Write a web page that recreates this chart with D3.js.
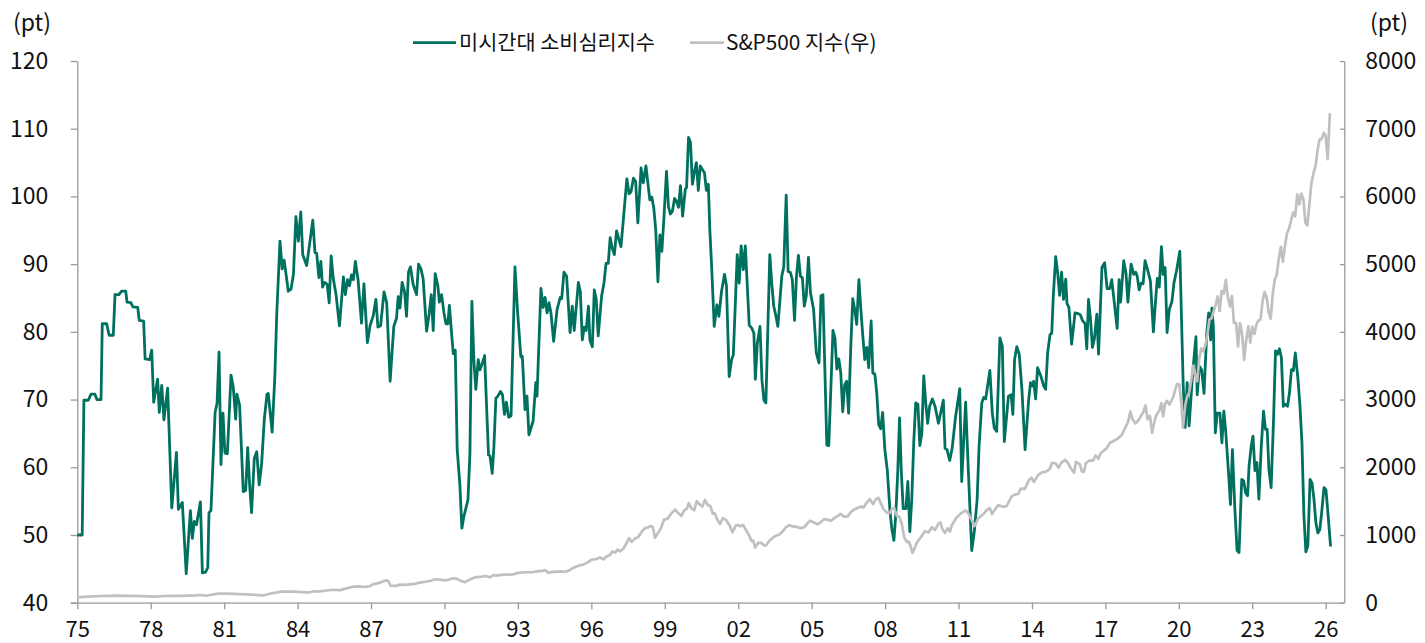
<!DOCTYPE html>
<html><head><meta charset="utf-8">
<script src="https://cdn.jsdelivr.net/npm/d3@7"></script>
<style>
body{margin:0;background:#fff;}
svg text{font-family:"Noto Sans CJK KR","Noto Sans",sans-serif;fill:#111;}
</style>
</head><body>
<svg id="chart" width="1425" height="643"></svg>
<script>
// ---- data (time in decimal years) ----
const seriesNames = ["미시간대 소비심리지수", "S&P500 지수(우)"];
const unitLabel = "(pt)";
const xTickYears = [1975,1978,1981,1984,1987,1990,1993,1996,1999,2002,2005,2008,2011,2014,2017,2020,2023,2026];
const leftTicks = [40,50,60,70,80,90,100,110,120];
const rightTicks = [0,1000,2000,3000,4000,5000,6000,7000,8000];

const umTimes = [1975.00,1975.20,1975.27,1975.45,1975.56,1975.72,1975.80,1975.97,1976.02,1976.20,1976.30,1976.47,1976.54,1976.70,1976.81,1976.98,1977.03,1977.19,1977.27,1977.47,1977.53,1977.71,1977.77,1977.96,1978.04,1978.12,1978.28,1978.35,1978.45,1978.54,1978.69,1978.86,1979.05,1979.13,1979.29,1979.45,1979.62,1979.70,1979.78,1979.87,1980.03,1980.11,1980.24,1980.33,1980.38,1980.46,1980.63,1980.71,1980.79,1980.87,1980.95,1981.03,1981.13,1981.28,1981.37,1981.47,1981.52,1981.63,1981.78,1981.88,1981.96,1982.04,1982.12,1982.23,1982.33,1982.43,1982.53,1982.64,1982.75,1982.80,1982.96,1983.07,1983.15,1983.28,1983.37,1983.45,1983.62,1983.73,1983.83,1983.93,
1984.03,1984.13,1984.21,1984.37,1984.48,1984.62,1984.71,1984.78,1984.87,1984.95,1985.02,1985.10,1985.21,1985.29,1985.37,1985.46,1985.57,1985.71,1985.87,1985.95,1986.04,1986.12,1986.20,1986.28,1986.36,1986.47,1986.61,1986.71,1986.85,1986.96,1987.09,1987.20,1987.28,1987.39,1987.53,1987.64,1987.78,1987.93,1988.04,1988.11,1988.18,1988.27,1988.37,1988.45,1988.53,1988.61,1988.72,1988.86,1988.94,1989.04,1989.13,1989.27,1989.38,1989.46,1989.54,1989.62,1989.73,1989.79,1989.88,1989.98,1990.06,1990.14,1990.20,1990.29,1990.36,1990.44,1990.52,1990.63,1990.71,1990.79,1990.96,1991.04,1991.12,1991.20,1991.28,1991.38,1991.45,1991.53,1991.64,1991.72,1991.80,1991.86,1991.95,1992.02,1992.10,1992.18,1992.29,1992.37,1992.45,1992.53,1992.62,1992.72,1992.88,1992.99,
1993.12,1993.18,1993.29,1993.37,1993.45,1993.62,1993.73,1993.78,1993.94,1994.03,1994.11,1994.19,1994.27,1994.35,1994.46,1994.60,1994.73,1994.79,1994.88,1994.99,1995.13,1995.22,1995.30,1995.47,1995.55,1995.63,1995.71,1995.79,1995.88,1995.94,1996.04,1996.12,1996.20,1996.28,1996.42,1996.52,1996.60,1996.69,1996.77,1996.85,1996.94,1997.03,1997.13,1997.21,1997.32,1997.45,1997.54,1997.62,1997.72,1997.81,1997.90,1998.03,1998.12,1998.23,1998.39,1998.47,1998.55,1998.63,1998.72,1998.80,1998.88,1998.96,1999.07,1999.15,1999.23,1999.31,1999.40,1999.48,1999.56,1999.64,1999.73,1999.84,1999.89,1999.97,2000.05,2000.13,2000.21,2000.29,2000.37,2000.45,2000.53,2000.62,2000.70,2000.78,2000.84,2000.92,2001.02,2001.13,2001.21,2001.32,2001.44,2001.52,2001.63,2001.73,2001.80,2001.96,
2002.04,2002.12,2002.21,2002.29,2002.45,2002.56,2002.64,2002.70,2002.78,2002.89,2002.97,2003.05,2003.13,2003.29,2003.37,2003.45,2003.53,2003.62,2003.78,2003.86,2003.96,2004.04,2004.13,2004.21,2004.30,2004.38,2004.46,2004.54,2004.62,2004.70,2004.78,2004.87,2004.95,2005.08,2005.19,2005.30,2005.38,2005.46,2005.62,2005.70,2005.87,2005.95,2006.03,2006.11,2006.19,2006.27,2006.35,2006.43,2006.51,2006.60,2006.68,2006.76,2006.84,2006.93,2007.01,2007.09,2007.17,2007.25,2007.33,2007.43,2007.50,2007.58,2007.66,2007.74,2007.82,2007.90,2007.99,2008.09,2008.20,2008.28,2008.36,2008.44,2008.52,2008.59,2008.66,2008.74,2008.85,2008.93,2009.01,2009.09,2009.17,2009.25,2009.34,2009.42,2009.50,2009.58,2009.66,2009.74,2009.82,2009.93,
2010.04,2010.18,2010.38,2010.45,2010.53,2010.64,2010.74,2010.88,2011.05,2011.13,2011.29,2011.40,2011.54,2011.65,2011.76,2011.84,2011.95,2012.03,2012.11,2012.28,2012.38,2012.46,2012.56,2012.69,2012.79,2012.87,2013.04,2013.15,2013.22,2013.29,2013.38,2013.48,2013.59,2013.72,2013.86,2013.94,2014.02,2014.07,2014.15,2014.23,2014.37,2014.48,2014.56,2014.64,2014.74,2014.81,2014.87,2014.97,2015.05,2015.13,2015.21,2015.29,2015.38,2015.43,2015.51,2015.62,2015.76,2015.89,2015.98,2016.06,2016.17,2016.24,2016.31,2016.39,2016.47,2016.55,2016.65,2016.72,2016.86,2016.97,2017.07,2017.18,2017.26,2017.48,2017.56,2017.62,2017.75,2017.84,2017.92,2018.05,2018.16,2018.24,2018.30,2018.38,2018.46,2018.54,2018.62,2018.73,2018.84,2018.96,
2019.04,2019.12,2019.20,2019.29,2019.36,2019.44,2019.52,2019.61,2019.72,2019.80,2019.91,2020.04,2020.18,2020.26,2020.34,2020.42,2020.52,2020.59,2020.70,2020.75,2020.84,2020.93,2021.03,2021.14,2021.22,2021.30,2021.35,2021.41,2021.49,2021.57,2021.68,2021.76,2021.84,2021.92,2022.03,2022.11,2022.19,2022.29,2022.38,2022.46,2022.57,2022.65,2022.73,2022.81,2022.87,2022.96,2023.03,2023.11,2023.19,2023.27,2023.37,2023.46,2023.54,2023.61,2023.68,2023.77,2023.87,2023.95,2024.03,2024.11,2024.19,2024.27,2024.35,2024.44,2024.52,2024.60,2024.68,2024.76,2024.87,2024.95,2025.03,2025.11,2025.19,2025.27,2025.36,2025.44,2025.52,2025.60,2025.68,2025.76,2025.84,2025.93,2026.01,2026.09,2026.20];

const umValues = [50.0,50.0,69.9,69.9,70.8,70.8,70.0,70.0,81.2,81.2,79.5,79.5,85.5,85.5,86.0,86.0,84.4,84.3,83.7,83.6,81.7,81.6,76.0,75.9,77.3,69.6,73.0,68.1,72.1,67.0,71.7,54.0,62.2,53.8,54.8,44.3,53.6,49.5,52.0,51.5,54.9,44.4,44.5,45.2,53.3,53.6,68.1,69.5,77.0,60.4,68.0,62.1,62.0,73.6,71.9,67.1,70.8,69.2,56.4,56.6,62.9,57.4,53.3,61.3,62.3,57.4,60.5,67.1,70.8,70.9,65.2,73.4,82.8,93.4,89.3,90.6,86.0,86.3,88.5,97.0,
93.4,97.7,91.4,89.8,92.7,96.5,91.7,91.6,88.0,90.4,86.6,87.3,87.0,84.3,91.2,87.8,85.5,80.9,88.1,85.5,87.7,86.8,88.4,87.7,90.4,87.7,81.3,87.1,78.4,80.9,82.4,84.8,80.7,80.9,85.9,84.3,72.7,80.8,82.0,85.2,83.5,87.3,85.9,82.3,88.8,89.6,87.0,85.5,90.0,89.3,87.8,80.1,82.8,85.5,80.2,88.6,86.8,84.4,85.5,82.8,81.2,81.2,83.9,79.8,76.8,77.3,62.6,57.4,51.0,52.7,55.2,62.1,84.5,75.9,71.5,75.9,74.4,75.2,76.5,69.0,61.8,61.7,59.1,63.1,70.2,70.5,71.2,70.7,67.8,69.6,67.4,67.6,89.6,82.8,
76.3,76.4,68.5,70.5,64.8,66.8,72.5,70.5,86.4,83.6,85.1,82.8,84.3,82.8,78.6,83.3,85.1,84.9,88.8,88.2,79.9,83.8,80.2,87.3,85.9,78.8,80.7,80.2,83.8,78.8,77.8,86.2,84.8,79.4,85.3,87.3,90.1,90.1,93.9,92.4,91.4,94.9,93.6,92.6,97.1,102.6,100.4,100.7,102.7,102.2,96.1,104.2,102.0,104.5,99.5,99.9,98.3,95.1,87.4,94.3,91.9,96.5,103.7,98.5,97.4,97.8,99.7,99.3,98.4,101.6,97.1,101.1,101.3,108.7,108.0,101.8,103.6,105.0,100.9,104.5,104.0,103.5,100.9,101.8,95.1,89.2,80.8,84.0,82.3,86.0,88.5,86.8,73.4,75.9,76.6,91.4,
87.2,92.7,89.2,92.7,81.0,80.5,79.8,73.0,78.3,80.8,72.9,69.9,69.5,91.4,87.2,83.8,82.5,80.8,88.2,89.6,100.2,88.9,88.8,87.7,81.7,88.2,91.3,88.2,88.0,83.8,85.3,91.0,85.8,83.3,76.9,75.4,85.3,85.5,63.3,63.2,80.2,79.1,74.5,76.0,73.9,68.2,72.2,72.7,68.0,77.9,84.9,83.3,81.1,87.7,83.3,79.4,75.9,77.7,74.7,81.6,73.9,73.8,71.0,66.3,65.7,68.1,62.6,59.6,53.5,50.8,49.2,53.2,59.6,67.3,59.6,53.9,53.9,57.9,50.5,55.2,63.6,69.5,69.3,63.2,65.0,73.5,69.5,66.5,69.0,70.1,
69.0,66.5,69.9,62.8,62.6,61.0,62.8,67.5,71.6,57.9,69.6,59.6,47.7,50.7,55.2,63.1,69.5,70.3,70.1,74.3,68.0,65.8,65.3,79.1,77.9,63.8,70.5,70.7,67.8,75.9,77.8,76.7,71.5,62.6,69.7,72.5,72.0,72.7,70.1,74.7,73.4,72.0,71.5,76.9,79.6,79.8,85.2,91.1,88.7,85.4,88.8,84.8,87.8,84.2,83.6,78.2,82.8,82.7,82.5,81.7,81.2,77.5,84.8,82.0,77.7,79.0,82.6,76.7,89.5,90.2,86.4,86.4,87.7,80.5,87.7,84.4,90.5,88.7,84.4,90.0,88.5,88.8,88.2,86.2,87.2,87.1,90.5,89.1,87.5,80.0,
84.1,87.9,86.6,92.6,88.5,89.5,79.9,83.3,84.5,87.2,89.1,91.9,72.0,65.9,72.5,66.1,71.5,74.9,79.3,70.7,74.9,74.4,70.9,79.8,82.8,78.8,83.5,80.8,65.1,68.0,68.0,63.6,68.3,65.1,59.2,54.5,62.6,53.8,47.7,47.4,58.2,58.0,56.2,55.8,60.2,63.2,64.6,59.5,60.7,55.3,63.2,68.3,65.6,65.6,59.7,57.0,67.1,77.2,76.7,77.5,76.2,69.0,69.3,69.0,71.0,74.4,74.3,76.9,72.9,69.0,63.6,52.8,47.5,48.4,58.2,57.7,55.3,51.8,50.3,50.8,53.5,57.0,56.7,53.3,48.3];

const spTimes = [1975.00,1975.45,1976.00,1976.54,1977.08,1977.63,1978.17,1978.72,1979.26,1979.81,1980.08,1980.25,1980.76,1981.17,1981.58,1981.99,1982.40,1982.60,1982.94,1983.35,1983.76,1984.23,1984.44,1984.64,1984.91,1985.18,1985.46,1985.73,1986.00,1986.27,1986.55,1986.71,1986.93,1987.09,1987.30,1987.50,1987.60,1987.70,1987.80,1987.98,1988.18,1988.38,1988.59,1988.79,1989.00,1989.21,1989.41,1989.62,1989.82,1990.02,1990.16,1990.36,1990.50,1990.66,1990.84,1991.04,1991.25,1991.45,1991.66,1991.86,1992.00,1992.20,1992.41,1992.61,1992.80,1993.01,1993.29,1993.56,1993.83,1993.97,1994.11,1994.24,1994.45,1994.58,1994.76,1994.90,1995.06,1995.26,1995.47,1995.67,1995.88,1996.01,1996.22,1996.35,1996.49,1996.63,1996.76,1996.86,1996.97,1997.08,1997.17,1997.31,1997.45,1997.54,1997.65,1997.78,1997.92,1998.06,1998.19,1998.30,1998.43,1998.51,1998.60,1998.70,1998.84,1998.97,1999.11,1999.20,1999.31,1999.43,1999.54,1999.68,1999.79,1999.90,1999.98,2000.09,2000.20,2000.31,2000.42,2000.53,2000.64,2000.77,2000.86,2000.96,2001.04,2001.13,2001.25,2001.38,2001.50,2001.66,2001.76,2001.90,2001.99,2002.09,2002.20,2002.31,2002.45,2002.54,2002.61,2002.69,2002.82,2002.95,2003.09,2003.15,2003.27,2003.43,2003.54,2003.68,2003.81,2003.95,2004.09,2004.23,2004.39,2004.53,2004.70,2004.83,2004.94,2005.11,2005.24,2005.38,2005.51,2005.65,2005.78,2005.92,2006.06,2006.19,2006.33,2006.47,2006.60,2006.74,2006.88,2006.99,2007.12,2007.26,2007.37,2007.51,2007.62,2007.73,2007.81,2007.94,2008.08,2008.19,2008.28,2008.37,2008.48,2008.59,2008.68,2008.78,2008.89,2008.97,2009.05,2009.12,2009.20,2009.28,2009.36,2009.50,2009.63,2009.77,2009.91,2010.04,2010.18,2010.26,2010.34,2010.45,2010.56,2010.65,2010.72,2010.79,2010.92,2011.13,2011.29,2011.40,2011.54,2011.65,2011.81,2012.02,2012.15,2012.28,2012.37,2012.46,2012.62,2012.83,2012.96,2013.17,2013.30,2013.44,2013.54,2013.71,2013.87,2013.98,2014.08,2014.25,2014.41,2014.55,2014.72,2014.82,2014.96,2015.09,2015.20,2015.36,2015.47,2015.61,2015.72,2015.80,2015.96,2016.04,2016.12,2016.20,2016.33,2016.50,2016.60,2016.72,2016.79,2016.91,2017.05,2017.19,2017.32,2017.50,2017.66,2017.80,2017.93,2018.02,2018.10,2018.23,2018.37,2018.55,2018.64,2018.72,2018.82,2018.91,2019.02,2019.10,2019.20,2019.29,2019.36,2019.44,2019.52,2019.61,2019.69,2019.77,2019.85,2019.93,2020.02,2020.10,2020.17,2020.26,2020.34,2020.42,2020.50,2020.59,2020.67,2020.75,2020.84,2020.92,2021.00,2021.09,2021.17,2021.25,2021.34,2021.42,2021.50,2021.59,2021.67,2021.75,2021.84,2021.92,2022.00,2022.09,2022.17,2022.25,2022.34,2022.42,2022.50,2022.59,2022.67,2022.75,2022.84,2022.92,2023.00,2023.09,2023.17,2023.25,2023.34,2023.42,2023.50,2023.59,2023.67,2023.75,2023.84,2023.92,2024.00,2024.09,2024.17,2024.25,2024.34,2024.42,2024.50,2024.59,2024.67,2024.75,2024.84,2024.92,2025.00,2025.09,2025.17,2025.25,2025.34,2025.42,2025.50,2025.59,2025.67,2025.75,2025.84,2025.92,2026.00,2026.08,2026.17];

const spValues = [80,89,99,104,100,96,89,103,101,107,114,102,135,133,128,122,112,107,140,164,165,157,150,166,167,180,191,185,211,236,240,232,242,274,289,318,329,322,252,247,267,262,272,279,297,309,320,346,340,329,339,361,356,322,304,343,375,380,395,375,408,404,415,414,418,440,450,450,467,466,481,445,456,458,462,454,470,515,545,562,600,636,645,669,639,687,705,757,740,786,757,801,885,954,899,947,970,1049,1101,1111,1133,1120,957,1017,1098,1229,1238,1286,1335,1373,1328,1282,1362,1389,1469,1394,1366,1499,1452,1420,1517,1436,1429,1315,1320,1240,1160,1249,1224,1134,1040,1139,1148,1130,1147,1077,990,912,916,815,886,880,841,848,916,964,990,1008,1050,1112,1145,1126,1121,1101,1114,1174,1212,1181,1156,1191,1234,1228,1207,1249,1280,1311,1270,1276,1336,1378,1400,1418,1407,1482,1530,1455,1526,1549,1481,1378,1330,1322,1385,1400,1280,1267,1166,969,896,903,826,735,798,873,919,987,1057,1036,1115,1074,1169,1187,1089,1031,1101,1049,1141,1183,1258,1327,1364,1321,1218,1131,1247,1312,1366,1398,1310,1362,1441,1416,1426,1569,1597,1606,1686,1682,1806,1848,1783,1884,1924,1931,1972,2067,2059,1995,2068,2108,2063,1972,1920,2079,2044,1940,1932,2060,2097,2099,2174,2126,2199,2239,2279,2363,2384,2423,2472,2575,2674,2824,2714,2648,2705,2816,2914,2711,2760,2507,2704,2784,2834,2946,2752,2942,2980,2926,2977,3038,3141,3231,3226,2954,2585,2912,3044,3100,3271,3500,3363,3270,3622,3756,3714,3811,3973,4181,4204,4298,4395,4523,4308,4605,4567,4766,4516,4374,4530,4132,4132,3785,4130,3955,3586,3872,4080,3840,4077,3970,4109,4169,4180,4450,4589,4508,4288,4194,4568,4770,4846,5096,5254,5036,5278,5460,5522,5648,5762,5705,6032,5882,6041,5955,5612,5569,5912,6205,6339,6460,6688,6840,6849,6940,6890,6550,7226];

// ---- layout ----
const svg = d3.select("#chart");
const L = 77.3, R = 1344.3, T = 61, B = 602.7;
const axisColor = "#9a9a9a";

const x = d3.scaleLinear().domain([1975, 2026.76]).range([L, R]);
const yL = d3.scaleLinear().domain([40, 120]).range([B, T]);
const yR = d3.scaleLinear().domain([0, 8000]).range([B, T]);

// left axis
const gL = svg.append("g").attr("transform", `translate(${L},0)`)
  .call(d3.axisLeft(yL).tickValues(leftTicks).tickSizeInner(6.6).tickSizeOuter(0).tickPadding(22.5));
// right axis
const gR = svg.append("g").attr("transform", `translate(${R},0)`)
  .call(d3.axisRight(yR).tickValues(rightTicks).tickFormat(d3.format("d")).tickSizeInner(-4.3).tickSizeOuter(0).tickPadding(21));
// bottom axis
const gB = svg.append("g").attr("transform", `translate(0,${B})`)
  .call(d3.axisBottom(x).tickValues(xTickYears).tickFormat(d => String(d).slice(2)).tickSizeInner(6.6).tickSizeOuter(0).tickPadding(11));

[gL, gR, gB].forEach(g => {
  g.selectAll("path.domain").attr("stroke", axisColor).attr("stroke-width", 1.3);
  g.selectAll(".tick line").attr("stroke", axisColor).attr("stroke-width", 1.3);
  g.selectAll(".tick text").attr("font-size", 23).attr("fill", "#111")
    .style("font-family", '"Noto Sans CJK KR","Noto Sans",sans-serif');
});
gB.selectAll(".tick text").attr("font-size", 22).attr("dy", null).attr("y", null)
  .attr("dominant-baseline", "alphabetic").attr("transform", "translate(0,34.5)");
gB.select("path.domain").attr("d", `M${L - 6.6},0.5H${R}`);

// lines
const umData = umTimes.map((t, i) => [t, umValues[i]]);
const spData = spTimes.map((t, i) => [t, spValues[i]]);
const teal = "#00705F", gray = "#C0C0C0";

svg.append("path").datum(umData)
  .attr("fill", "none").attr("stroke", teal).attr("stroke-width", 2.8)
  .attr("stroke-linejoin", "round")
  .attr("d", d3.line().x(d => x(d[0])).y(d => yL(d[1])));
svg.append("path").datum(spData)
  .attr("fill", "none").attr("stroke", gray).attr("stroke-width", 2.7)
  .attr("stroke-linejoin", "round")
  .attr("d", d3.line().x(d => x(d[0])).y(d => yR(d[1])));

// unit labels
svg.append("text").attr("x", 13).attr("y", 31).attr("font-size", 23).text(unitLabel);
svg.append("text").attr("x", 1370).attr("y", 31).attr("font-size", 23).text(unitLabel);

// legend
const lg = svg.append("g");
lg.append("line").attr("x1", 413).attr("x2", 456).attr("y1", 42.7).attr("y2", 42.7)
  .attr("stroke", teal).attr("stroke-width", 2.8);
lg.append("text").attr("x", 459).attr("y", 50).attr("font-size", 20.8).text(seriesNames[0]);
lg.append("line").attr("x1", 690).attr("x2", 724).attr("y1", 42.7).attr("y2", 42.7)
  .attr("stroke", gray).attr("stroke-width", 2.7);
lg.append("text").attr("x", 726).attr("y", 50).attr("font-size", 20.8).text(seriesNames[1]);
</script>
</body></html>
